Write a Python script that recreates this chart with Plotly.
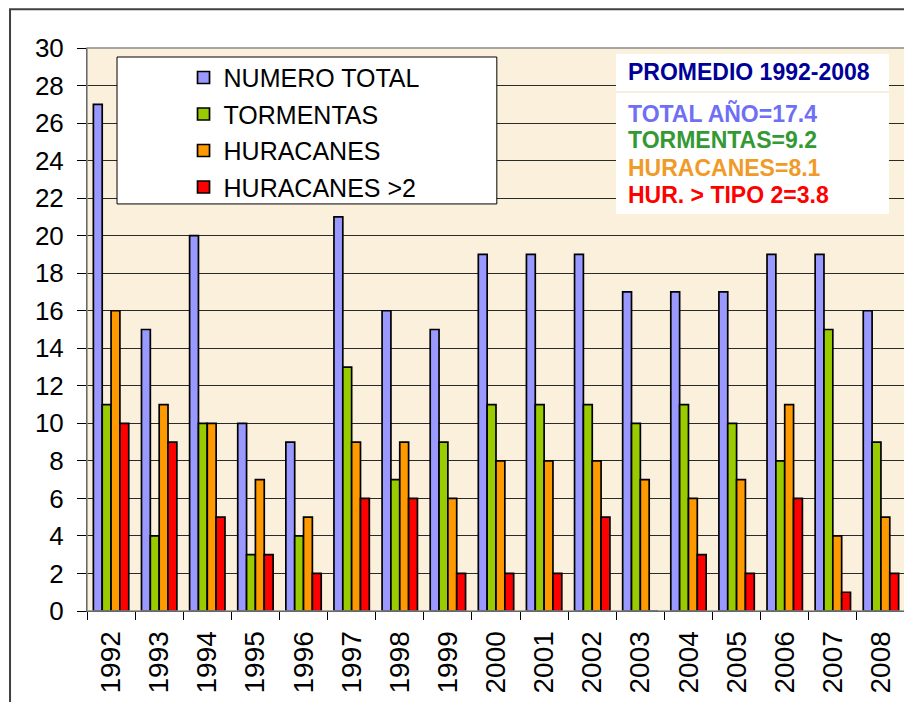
import plotly.graph_objects as go

years = [str(y) for y in range(1992, 2009)]
numero_total = [27, 15, 20, 10, 9, 21, 16, 15, 19, 19, 19, 17, 17, 17, 19, 19, 16]
tormentas = [11, 4, 10, 3, 4, 13, 7, 9, 11, 11, 11, 10, 11, 10, 8, 15, 9]
huracanes = [16, 11, 10, 7, 5, 9, 9, 6, 8, 8, 8, 7, 6, 7, 11, 4, 5]
huracanes_2 = [10, 9, 5, 3, 2, 6, 6, 2, 2, 2, 5, 0, 3, 2, 6, 1, 2]

series_names = ["NUMERO TOTAL", "TORMENTAS", "HURACANES", "HURACANES >2"]
series_colors = ["#9999FF", "#99CC00", "#FF9900", "#FF0000"]

promedio_title = "PROMEDIO 1992-2008"
promedio_lines = ["TOTAL AÑO=17.4", "TORMENTAS=9.2", "HURACANES=8.1", "HUR. > TIPO 2=3.8"]
promedio_colors = ["#6F6FF5", "#339933", "#F09A28", "#FF0000"]

FONT = "Arial, Liberation Sans, sans-serif"

fig = go.Figure()
for i, (name, vals, col) in enumerate(zip(series_names, [numero_total, tormentas, huracanes, huracanes_2], series_colors)):
    fig.add_trace(go.Bar(
        x=years, y=vals, name=name, legendgroup=f"g{i}",
        marker=dict(color=col, line=dict(color="black", width=1.7)),
    ))

# outer chart border
fig.add_shape(type="rect", xref="paper", yref="paper", x0=-0.0941, x1=1.3, y0=-0.4, y1=1.069,
              line=dict(color="#404040", width=2), layer="below")
# plot area border
fig.add_shape(type="rect", xref="paper", yref="paper", x0=0, x1=1, y0=0, y1=1,
              line=dict(color="#8a8a8a", width=1.5), layer="above")
# legend box
fig.add_shape(type="rect", xref="paper", yref="paper", x0=0.0367, x1=0.501, y0=0.723, y1=0.984,
              fillcolor="white", line=dict(color="black", width=1), layer="above")
# averages box
fig.add_shape(type="rect", xref="paper", yref="paper", x0=0.6467, x1=0.9804, y0=0.7052, y1=0.9893,
              fillcolor="white", line=dict(width=0), layer="above")
fig.add_shape(type="line", xref="paper", yref="paper", x0=0.6467, x1=0.9804, y0=0.922, y1=0.922,
              line=dict(color="#F5E9D2", width=1.5), layer="above")

fig.add_annotation(xref="paper", yref="paper", x=0.659, y=0.957, xanchor="left", yanchor="middle",
                   text=f"<b>{promedio_title}</b>", showarrow=False,
                   font=dict(family=FONT, size=23, color="#000099"))
line_ys = [0.8845, 0.8366, 0.7869, 0.7389]
for txt, col, yy in zip(promedio_lines, promedio_colors, line_ys):
    fig.add_annotation(xref="paper", yref="paper", x=0.659, y=yy, xanchor="left", yanchor="middle",
                       text=f"<b>{txt}</b>", showarrow=False,
                       font=dict(family=FONT, size=23, color=col))

fig.update_layout(
    width=904, height=694,
    margin=dict(l=79, r=7, t=40, b=91),
    paper_bgcolor="white",
    plot_bgcolor="#FBF0DC",
    barmode="group", bargap=0.265, bargroupgap=0,
    font=dict(family=FONT, size=25, color="black"),
    legend=dict(x=0.118, y=0.988, xanchor="left", yanchor="top",
                bgcolor="rgba(0,0,0,0)", borderwidth=0, tracegroupgap=1,
                font=dict(family=FONT, size=25, color="black")),
    xaxis=dict(type="category", tickangle=-90, tickson="boundaries", ticks="outside",
               ticklen=8, tickcolor="black", showline=True, linecolor="black", linewidth=1,
               showgrid=False, tickfont=dict(size=28), ticklabelstandoff=8),
    yaxis=dict(range=[0, 30], dtick=2, ticks="outside", ticklen=9, tickcolor="black",
               showline=True, linecolor="black", linewidth=1,
               gridcolor="#2a2a2a", gridwidth=1, zeroline=False, tickfont=dict(size=26),
               ticklabelstandoff=8),
)

fig.write_html("out.html")
